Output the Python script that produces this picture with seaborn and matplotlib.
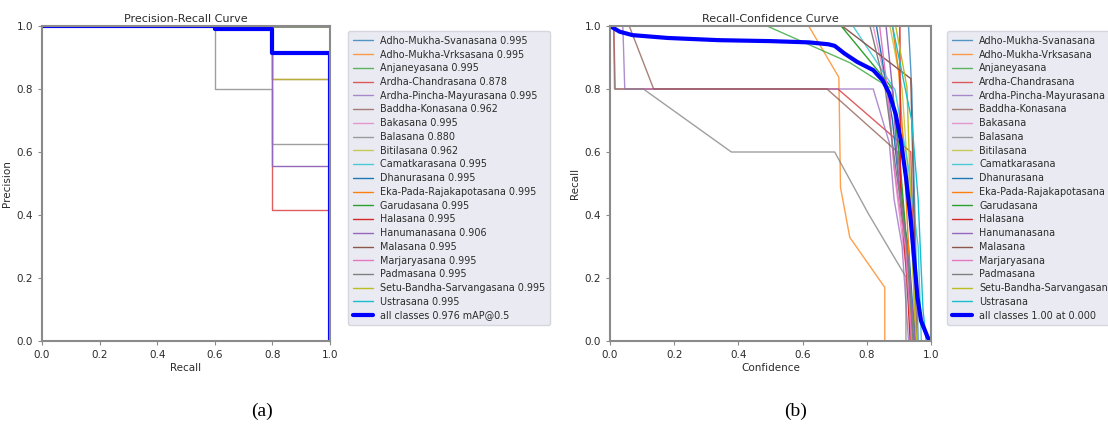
import matplotlib
matplotlib.use("Agg")
import matplotlib.pyplot as plt
import seaborn as sns
import pandas as pd

# ---------------- data ----------------
classes = ["Adho-Mukha-Svanasana", "Adho-Mukha-Vrksasana", "Anjaneyasana", "Ardha-Chandrasana",
           "Ardha-Pincha-Mayurasana", "Baddha-Konasana", "Bakasana", "Balasana", "Bitilasana",
           "Camatkarasana", "Dhanurasana", "Eka-Pada-Rajakapotasana", "Garudasana", "Halasana",
           "Hanumanasana", "Malasana", "Marjaryasana", "Padmasana", "Setu-Bandha-Sarvangasana",
           "Ustrasana"]
ap50 = [0.995, 0.995, 0.995, 0.878, 0.995, 0.962, 0.995, 0.880, 0.962, 0.995,
        0.995, 0.995, 0.995, 0.995, 0.906, 0.995, 0.995, 0.995, 0.995, 0.995]

# PR curve: precision level on recall segments [0-0.6], [0.6-0.8], [0.8-1.0]
pr_edges = [0.0, 0.6, 0.8, 1.0]
pr_levels = [
    [1, 1, 1], [1, 1, 1], [1, 1, 1], [1, 1, 0.417], [1, 1, 1],
    [1, 1, 0.833], [1, 1, 1], [1, 0.8, 0.625], [1, 1, 0.833], [1, 1, 1],
    [1, 1, 1], [1, 1, 1], [1, 1, 1], [1, 1, 1], [1, 1, 0.556],
    [1, 1, 1], [1, 1, 1], [1, 1, 1], [1, 1, 1], [1, 1, 1],
]
pr_all_levels = [1.0, 0.99, 0.913]
pr_all_map = 0.976

# Recall-Confidence curves (confidence, recall) vertices
rc_conf = [
    [0, 0.93, 0.94, 0.95, 0.96],
    [0, 0.619, 0.713, 0.718, 0.747, 0.856, 0.856],
    [0, 0.489, 0.748, 0.83, 0.88, 0.90, 0.92, 0.94],
    [0, 0.012, 0.016, 0.71, 0.937, 0.945, 0.95],
    [0, 0.04, 0.046, 0.82, 0.87, 0.885, 0.91, 0.93],
    [0, 0.06, 0.136, 0.676, 0.896, 0.925, 0.945],
    [0, 0.82, 0.862, 0.89, 0.92, 0.94],
    [0, 0.011, 0.014, 0.104, 0.378, 0.70, 0.805, 0.922, 0.922],
    [0, 0.872, 0.91, 0.93, 0.945, 0.95],
    [0, 0.757, 0.888, 0.93, 0.96, 0.97],
    [0, 0.83, 0.88, 0.91, 0.93, 0.95],
    [0, 0.88, 0.90, 0.915, 0.93, 0.94],
    [0, 0.72, 0.879, 0.905, 0.925, 0.945],
    [0, 0.903, 0.905, 0.925, 0.935],
    [0, 0.86, 0.88, 0.90, 0.93, 0.95],
    [0, 0.723, 0.937, 0.945, 0.955],
    [0, 0.84, 0.87, 0.885, 0.92, 0.94],
    [0, 0.81, 0.857, 0.89, 0.925, 0.945],
    [0, 0.89, 0.925, 0.935, 0.945, 0.955],
    [0, 0.88, 0.94, 0.96, 0.975, 0.985],
]
rc_recall = [
    [1, 1.0, 0.8, 0.4, 0.0],
    [1, 1.0, 0.837, 0.488, 0.329, 0.17, 0.0],
    [1, 1.0, 0.883, 0.83, 0.8, 0.6, 0.3, 0.0],
    [1, 1.0, 0.8, 0.8, 0.6, 0.3, 0.0],
    [1, 1.0, 0.8, 0.8, 0.63, 0.45, 0.3, 0.0],
    [1, 1.0, 0.8, 0.8, 0.6, 0.3, 0.0],
    [1, 1.0, 0.806, 0.5, 0.25, 0.0],
    [1, 1.0, 0.8, 0.8, 0.6, 0.6, 0.404, 0.203, 0.0],
    [1, 1.0, 0.8, 0.5, 0.2, 0.0],
    [1, 1.0, 0.797, 0.55, 0.3, 0.0],
    [1, 1.0, 0.7, 0.4, 0.3, 0.0],
    [1, 1.0, 0.85, 0.6, 0.3, 0.0],
    [1, 1.0, 0.803, 0.55, 0.3, 0.0],
    [1, 1.0, 0.45, 0.2, 0.0],
    [1, 1.0, 0.8, 0.5, 0.25, 0.0],
    [1, 1.0, 0.833, 0.5, 0.0],
    [1, 1.0, 0.75, 0.55, 0.3, 0.0],
    [1, 1.0, 0.803, 0.55, 0.3, 0.0],
    [1, 1.0, 0.806, 0.5, 0.2, 0.0],
    [1, 1.0, 0.7, 0.45, 0.1, 0.0],
]
rc_all_conf = [0, 0.03, 0.07, 0.18, 0.34, 0.5, 0.62, 0.68, 0.70, 0.73, 0.77, 0.82, 0.849,
               0.87, 0.89, 0.906, 0.922, 0.937, 0.948, 0.958, 0.969, 0.99, 1.0]
rc_all_recall = [1.0, 0.982, 0.971, 0.962, 0.955, 0.952, 0.948, 0.942, 0.937, 0.913, 0.886,
                 0.86, 0.828, 0.786, 0.72, 0.637, 0.52, 0.382, 0.255, 0.138, 0.064, 0.011, 0.0]
rc_all_label = "all classes 1.00 at 0.000"

# ---------------- style ----------------
sns.set_theme(style="white")
plt.rcParams['font.family'] = ['DejaVu Sans']
palette = sns.color_palette("tab10", 10)
spine_col = "#8a8a8a"
text_col = "#2b2b2b"

fig = plt.figure(figsize=(11.08, 4.32), dpi=100)
ax1 = fig.add_axes([42 / 1108, 1 - 341 / 432, 288 / 1108, 315 / 432])
ax2 = fig.add_axes([610 / 1108, 1 - 341 / 432, 321 / 1108, 315 / 432])


def style_axes(ax, title, xlabel, ylabel):
    ax.set_xlim(0, 1)
    ax.set_ylim(0, 1)
    ax.set_facecolor("white")
    for s in ax.spines.values():
        s.set_color(spine_col)
        s.set_linewidth(1.5)
    ax.tick_params(axis="both", labelsize=7.5, colors=text_col, length=3, width=0.8,
                   direction="out", bottom=True, left=True, color=spine_col)
    ax.set_xticks([0, 0.2, 0.4, 0.6, 0.8, 1.0])
    ax.set_yticks([0, 0.2, 0.4, 0.6, 0.8, 1.0])
    ax.set_title(title, fontsize=8, color=text_col, pad=3)
    ax.set_xlabel(xlabel, fontsize=7.5, color=text_col, labelpad=2)
    ax.set_ylabel(ylabel, fontsize=7.5, color=text_col, labelpad=3)


# ---------------- PR curve ----------------
for i, name in enumerate(classes):
    p = pr_levels[i]
    xs = [pr_edges[0], pr_edges[1], pr_edges[1], pr_edges[2], pr_edges[2], pr_edges[3], pr_edges[3]]
    ys = [p[0], p[0], p[1], p[1], p[2], p[2], 0.0]
    df = pd.DataFrame({"x": xs, "y": ys})
    sns.lineplot(data=df, x="x", y="y", ax=ax1, estimator=None, sort=False,
                 color=palette[i % 10], lw=1, alpha=0.75 if i < 10 else 1.0,
                 label=f"{name} {ap50[i]:.3f}")
pa = pr_all_levels
xs = [pr_edges[0], pr_edges[1], pr_edges[1], pr_edges[2], pr_edges[2], pr_edges[3], pr_edges[3]]
ys = [pa[0], pa[0], pa[1], pa[1], pa[2], pa[2], 0.0]
sns.lineplot(data=pd.DataFrame({"x": xs, "y": ys}), x="x", y="y", ax=ax1, estimator=None,
             sort=False, color="blue", lw=3, label=f"all classes {pr_all_map:.3f} mAP@0.5")
style_axes(ax1, "Precision-Recall Curve", "Recall", "Precision")

# ---------------- RC curve ----------------
for i, name in enumerate(classes):
    df = pd.DataFrame({"x": rc_conf[i], "y": rc_recall[i]})
    sns.lineplot(data=df, x="x", y="y", ax=ax2, estimator=None, sort=False,
                 color=palette[i % 10], lw=1, alpha=0.75 if i < 10 else 1.0, label=name)
sns.lineplot(data=pd.DataFrame({"x": rc_all_conf, "y": rc_all_recall}), x="x", y="y", ax=ax2,
             estimator=None, sort=False, color="blue", lw=3, label=rc_all_label)
style_axes(ax2, "Recall-Confidence Curve", "Confidence", "Recall")

for ax, x0 in ((ax1, 348), (ax2, 947)):
    leg = ax.legend(loc="upper left", bbox_to_anchor=(x0 / 1108, 1 - 31 / 432),
                    bbox_transform=fig.transFigure, fontsize=6.9, frameon=True,
                    labelspacing=0.39, handlelength=2.1, borderpad=0.5, handletextpad=0.75,
                    borderaxespad=0)
    leg.get_frame().set_facecolor("#eaeaf2")
    leg.get_frame().set_edgecolor("#d6d6de")
    leg.get_frame().set_alpha(1)
    for t in leg.get_texts():
        t.set_color(text_col)

fig.text(262 / 1108, 1 - 411 / 432, "(a)", ha="center", va="center", fontsize=14,
         family=["Liberation Serif", "DejaVu Serif"], color="black")
fig.text(796 / 1108, 1 - 411 / 432, "(b)", ha="center", va="center", fontsize=14,
         family=["Liberation Serif", "DejaVu Serif"], color="black")

fig.savefig("out.png", dpi=100, facecolor="white")
